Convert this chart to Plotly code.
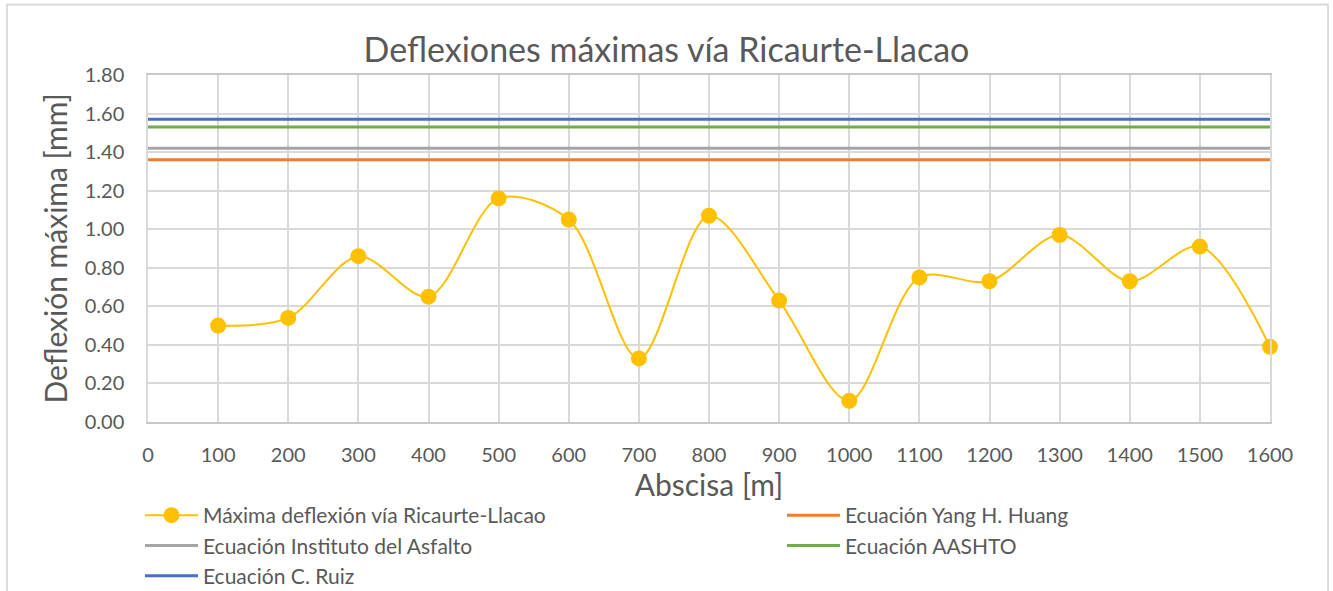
import plotly.graph_objects as go

# Abscisa (m) y deflexión máxima medida (mm)
abscisa = [100, 200, 300, 400, 500, 600, 700, 800, 900, 1000,
           1100, 1200, 1300, 1400, 1500, 1600]
deflexion = [0.50, 0.54, 0.86, 0.65, 1.16, 1.05, 0.33, 1.07, 0.63, 0.11,
             0.75, 0.73, 0.97, 0.73, 0.91, 0.39]

# Deflexiones admisibles según cada ecuación (mm)
rango_x = [0, 1600]
yang_huang = 1.36
instituto_asfalto = 1.42
aashto = 1.53
c_ruiz = 1.57

FONT = "Lato"
TXT = "#595959"
GRID = "#d9d9d9"

# Área de trazado en píxeles
L, R, T, B = 148, 1270, 75, 422
W, H = 1333, 591
PW, PH = R - L, B - T


def px_x(p):
    return (p - L) / PW


def px_y(p):
    return (B - p) / PH


fig = go.Figure()
fig.add_trace(go.Scatter(
    x=abscisa, y=deflexion, mode="lines+markers",
    name="Máxima deflexión vía Ricaurte-Llacao", legend="legend",
    line=dict(color="#FFC000", width=2, shape="spline", smoothing=0.9),
    marker=dict(color="#FFC000", size=16), cliponaxis=False,
))
fig.add_trace(go.Scatter(x=rango_x, y=[yang_huang] * 2, mode="lines",
                         name="Ecuación Yang H. Huang", legend="legend2",
                         line=dict(color="#ED7D31", width=3)))
fig.add_trace(go.Scatter(x=rango_x, y=[instituto_asfalto] * 2, mode="lines",
                         name="Ecuación Instituto del Asfalto", legend="legend",
                         line=dict(color="#A5A5A5", width=3)))
fig.add_trace(go.Scatter(x=rango_x, y=[aashto] * 2, mode="lines",
                         name="Ecuación AASHTO", legend="legend2",
                         line=dict(color="#70AD47", width=3)))
fig.add_trace(go.Scatter(x=rango_x, y=[c_ruiz] * 2, mode="lines",
                         name="Ecuación C. Ruiz", legend="legend",
                         line=dict(color="#4472C4", width=3)))

leg_common = dict(orientation="v", yanchor="top", xanchor="left",
                  font=dict(size=21, color=TXT, family=FONT),
                  tracegroupgap=0, itemwidth=53, bgcolor="rgba(0,0,0,0)")

fig.update_layout(
    width=W, height=H,
    margin=dict(l=L, r=W - R, t=T, b=H - B, autoexpand=False),
    paper_bgcolor="white", plot_bgcolor="white",
    font=dict(family=FONT, color=TXT, size=20),
    title=dict(text="Deflexiones máximas vía Ricaurte-Llacao",
               x=0.5, xanchor="center", y=1 - 50 / H, yanchor="middle",
               font=dict(size=34, color=TXT, family=FONT)),
    showlegend=True,
    legend=dict(x=px_x(140), y=px_y(495), **leg_common),
    legend2=dict(x=px_x(782), y=px_y(495), **leg_common),
)

fig.update_xaxes(
    range=[0, 1600], dtick=100, tick0=0,
    showgrid=True, gridcolor=GRID, gridwidth=1.5,
    showline=True, linecolor="#c8c8c8", linewidth=1.5, mirror=True,
    ticks="", zeroline=False, ticklabelstandoff=14,
    tickfont=dict(size=20, color=TXT),
    title=dict(text="Abscisa [m]", font=dict(size=30, color=TXT), standoff=5),
)
fig.update_yaxes(
    range=[0, 1.8], dtick=0.2, tick0=0, tickformat=".2f",
    showgrid=True, gridcolor=GRID, gridwidth=1.5,
    showline=True, linecolor="#d9d9d9", linewidth=1.5, mirror=True,
    ticks="", zeroline=False, ticklabelstandoff=18,
    tickfont=dict(size=20, color=TXT),
    title=dict(text="Deflexión máxima [mm]", font=dict(size=30, color=TXT),
               standoff=8),
)

# Marco exterior del gráfico
fig.add_shape(type="rect", xref="paper", yref="paper",
              x0=px_x(7), x1=px_x(1328), y0=px_y(640), y1=px_y(4.5),
              line=dict(color="#d9d9d9", width=1.8), layer="below")

fig.write_html("out.html")
